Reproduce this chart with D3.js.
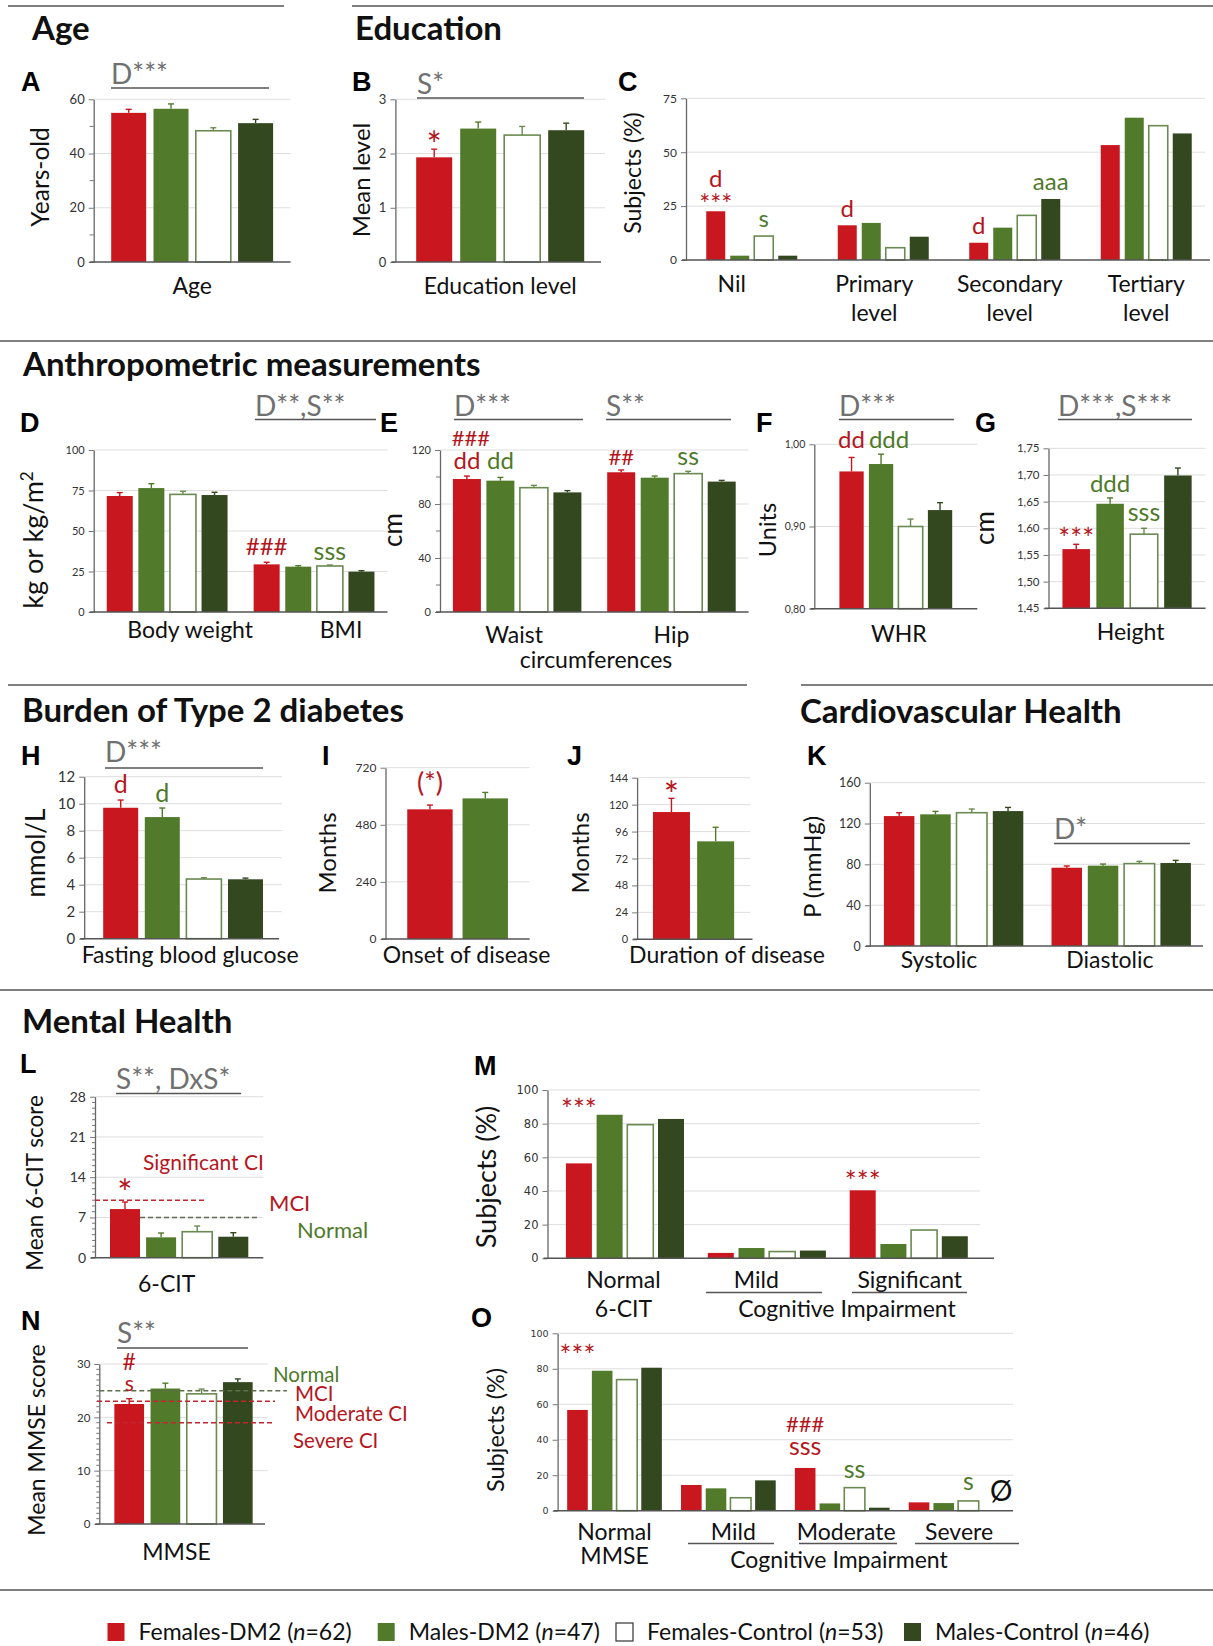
<!DOCTYPE html>
<html>
<head>
<meta charset="utf-8">
<script src="https://cdn.jsdelivr.net/npm/d3@7"></script>
<style>
  body { margin: 0; background: #fff; }
  svg text { font-family: Lato, "Open Sans", sans-serif; }
  .title { font-weight: 700; font-size: 33px; fill: #111; }
  .letter { font-family: "Liberation Sans", Arial, sans-serif !important; font-weight: 700; font-size: 27px; fill: #000; }
  .sig { font-size: 28px; fill: #707070; }
  .sigline { stroke: #555; stroke-width: 1.6px; }
  .rule { stroke: #555; stroke-width: 1.6px; }
  .ylab { fill: #111; }
  .xlab { font-size: 23px; fill: #111; }
</style>
</head>
<body>
<script>

    // ---- groups ----
    var groupNames = ["Females-DM2", "Males-DM2", "Females-Control", "Males-Control"];
    var groupN = [62, 47, 53, 46];

    // ---- A: age ----
    var ageCats = ["Age"];
    var ageMean = [[55.0, 56.5, 48.4, 51.2]];
    var ageSem = [[1.3, 1.8, 1.1, 1.4]];
    var ageTicks = [0, 20, 40, 60];

    // ---- B: education level ----
    var eduLevelCats = ["Education level"];
    var eduLevelMean = [[1.93, 2.46, 2.34, 2.43]];
    var eduLevelSem = [[0.15, 0.12, 0.16, 0.13]];
    var eduLevelTicks = [0, 1, 2, 3];

    // ---- C: education categories (% subjects) ----
    var eduCats = ["Nil", "Primary level", "Secondary level", "Tertiary level"];
    var eduPct = [[22.6, 2.0, 11.1, 2.0], [16.1, 17.2, 5.7, 10.8], [8.0, 15.0, 20.7, 28.3], [53.3, 66.0, 62.3, 58.7]];
    var eduTicks = [0, 25, 50, 75];

    // ---- D: body weight / BMI ----
    var weightCats = ["Body weight", "BMI"];
    var weightMean = [[71.6, 76.5, 72.6, 72.2], [29.4, 28.0, 28.4, 24.9]];
    var weightSem = [[2.1, 2.7, 1.9, 1.7], [1.3, 0.6, 0.6, 0.6]];
    var weightTicks = [0, 25, 50, 75, 100];

    // ---- E: circumferences ----
    var circCats = ["Waist", "Hip"];
    var circMean = [[98.5, 97.3, 92.1, 88.6], [103.5, 99.5, 102.5, 96.6]];
    var circSem = [[2.2, 2.4, 1.7, 1.3], [1.7, 1.2, 1.7, 0.9]];
    var circTicks = [0, 40, 80, 120];

    // ---- F: WHR ----
    var whrCats = ["WHR"];
    var whrMean = [[0.967, 0.976, 0.900, 0.920]];
    var whrSem = [[0.017, 0.012, 0.009, 0.009]];
    var whrTicks = [0.80, 0.90, 1.00];

    // ---- G: height ----
    var heightCats = ["Height"];
    var heightMean = [[1.561, 1.646, 1.589, 1.699]];
    var heightSem = [[0.009, 0.011, 0.011, 0.014]];
    var heightTicks = [1.45, 1.50, 1.55, 1.60, 1.65, 1.70, 1.75];

    // ---- H, I, J: diabetes ----
    var fbgCats = ["Fasting blood glucose"];
    var fbgMean = [[9.70, 9.01, 4.42, 4.40]];
    var fbgSem = [[0.57, 0.67, 0.10, 0.09]];
    var fbgTicks = [0, 2, 4, 6, 8, 10, 12];

    var onsetCats = ["Onset of disease"];
    var onsetMean = [[545, 591]];
    var onsetSem = [[18, 25]];
    var onsetTicks = [0, 240, 480, 720];

    var durCats = ["Duration of disease"];
    var durMean = [[113.4, 87.3]];
    var durSem = [[12.2, 12.5]];
    var durTicks = [0, 24, 48, 72, 96, 120, 144];

    // ---- K: blood pressure ----
    var bpCats = ["Systolic", "Diastolic"];
    var bpMean = [[127.3, 129.0, 130.6, 132.2], [76.7, 78.7, 80.7, 81.3]];
    var bpSem = [[3.3, 2.9, 3.6, 3.6], [1.7, 1.6, 2.2, 2.6]];
    var bpTicks = [0, 40, 80, 120, 160];

    // ---- L, M: 6-CIT ----
    var citCats = ["6-CIT"];
    var citMean = [[8.46, 3.54, 4.52, 3.65]];
    var citSem = [[1.22, 0.75, 0.99, 0.70]];
    var citTicks = [0, 7, 14, 21, 28];
    var citCutoffs = [10, 7];

    var citPctCats = ["Normal", "Mild", "Significant"];
    var citPct = [[56.4, 85.3, 79.4, 82.8], [3.2, 6.1, 4.0, 4.6], [40.4, 8.5, 16.8, 13.1]];
    var pctTicks = [0, 20, 40, 60, 80, 100];

    // ---- N, O: MMSE ----
    var mmseCats = ["MMSE"];
    var mmseMean = [[22.5, 25.4, 24.4, 26.6]];
    var mmseSem = [[1.0, 1.0, 0.9, 0.6]];
    var mmseTicks = [0, 10, 20, 30];
    var mmseCutoffs = [25, 23, 19];

    var mmsePctCats = ["Normal", "Mild", "Moderate", "Severe"];
    var mmsePct = [[56.8, 78.9, 73.9, 80.6], [14.5, 12.6, 7.3, 17.1], [24.1, 4.1, 13.0, 1.7], [4.7, 4.3, 5.5, null]];

    // ---- styles ----
    var RED = "#c8171e", GREEN = "#517a2b", DARK = "#33481f", OUT = "#6b8a51";
    var TRED = "#b5161d", TGREEN = "#4e7a2a", OLIVE = "#5e6e4a";
    var fills = [RED, GREEN, "#ffffff", DARK];
    var strokes = ["none", "none", OUT, "none"];
    var errCols = [RED, GREEN, OUT, DARK];

    var commaLocale = d3.formatLocale({decimal: ",", thousands: ".", grouping: [3], currency: ["", ""]});
    var fmtComma = commaLocale.format(".2f");

    var svg = d3.select("body").append("svg")
        .attr("width", 1213)
        .attr("height", 1646);

    function txt(x, y, t, cls, opts) {
        opts = opts || {};
        var el = svg.append("text").attr("x", x).attr("y", y).text(t);
        if (cls) el.attr("class", cls);
        if (opts.size) el.style("font-size", opts.size + "px");
        if (opts.fill) el.style("fill", opts.fill);
        if (opts.anchor) el.attr("text-anchor", opts.anchor);
        return el;
    }

    function rule(x1, x2, y) {
        svg.append("line").attr("class", "rule")
            .attr("x1", x1).attr("x2", x2).attr("y1", y).attr("y2", y);
    }

    function sigBar(t, x1, x2, yText, yLine) {
        txt(x1, yText, t, "sig");
        svg.append("line").attr("class", "sigline")
            .attr("x1", x1).attr("x2", x2).attr("y1", yLine).attr("y2", yLine);
    }

    function ytitle(t, x, y, size) {
        return svg.append("text").attr("class", "ylab")
            .attr("transform", "translate(" + x + "," + y + ") rotate(-90)")
            .attr("text-anchor", "middle").attr("dy", "0.35em")
            .style("font-size", (size || 24) + "px")
            .text(t);
    }

    function barPanel(p) {
        var g = svg.append("g");
        var axisX = p.axisX || p.range[0];
        var y = d3.scaleLinear()
            .domain([p.ticks[0], p.ticks[p.ticks.length - 1]])
            .range([p.yBot, p.yTop]);
        var x = d3.scaleBand().domain(p.cats).range(p.range);
        var gridEnd = p.gridEnd || p.range[1];

        g.selectAll("line.grid")
            .data(p.ticks.slice(1))
            .enter().append("line")
            .attr("class", "grid")
            .attr("x1", axisX).attr("x2", gridEnd)
            .attr("y1", y).attr("y2", y)
            .attr("stroke", "#dedede").attr("stroke-width", 1);

        if (p.minor) {
            g.selectAll("line.minor")
                .data(p.minor)
                .enter().append("line")
                .attr("x1", axisX - (p.minorSize || 4)).attr("x2", axisX)
                .attr("y1", y).attr("y2", y)
                .attr("stroke", "#777").attr("stroke-width", 1);
        }

        var bars = [];
        p.cats.forEach(function (c, ci) {
            var vals = p.values[ci];
            var n = vals.length;
            vals.forEach(function (v, bi) {
                if (v == null) return;
                bars.push({
                    ci: ci, bi: bi, v: v,
                    e: p.errors ? p.errors[ci][bi] : 0,
                    cx: x(c) + x.bandwidth() / 2 + (bi - (n - 1) / 2) * p.step
                });
            });
        });

        // error bars (up only)
        var eb = bars.filter(function (d) { return d.e > 0; });
        g.selectAll("line.err")
            .data(eb)
            .enter().append("line")
            .attr("x1", function (d) { return d.cx; })
            .attr("x2", function (d) { return d.cx; })
            .attr("y1", function (d) { return y(d.v); })
            .attr("y2", function (d) { return y(d.v + d.e); })
            .attr("stroke", function (d) { return errCols[d.bi]; })
            .attr("stroke-width", 1.4);
        g.selectAll("line.cap")
            .data(eb)
            .enter().append("line")
            .attr("x1", function (d) { return d.cx - 3; })
            .attr("x2", function (d) { return d.cx + 3; })
            .attr("y1", function (d) { return y(d.v + d.e); })
            .attr("y2", function (d) { return y(d.v + d.e); })
            .attr("stroke", function (d) { return errCols[d.bi]; })
            .attr("stroke-width", 1.4);

        g.selectAll("rect.bar")
            .data(bars)
            .enter().append("rect")
            .attr("class", "bar")
            .attr("x", function (d) { return d.cx - p.bw / 2; })
            .attr("width", p.bw)
            .attr("y", function (d) { return y(d.v); })
            .attr("height", function (d) { return p.yBot - y(d.v); })
            .attr("fill", function (d) { return fills[d.bi]; })
            .attr("stroke", function (d) { return strokes[d.bi]; })
            .attr("stroke-width", 1.6);

        var ax = d3.axisLeft(y)
            .tickValues(p.ticks)
            .tickSize(5)
            .tickSizeOuter(0)
            .tickPadding(4)
            .tickFormat(p.fmt || d3.format("d"));
        var ag = g.append("g")
            .attr("transform", "translate(" + axisX + ",0)")
            .call(ax);
        ag.select(".domain").attr("stroke", "#666").attr("stroke-width", 1.3);
        ag.selectAll(".tick line").attr("stroke", "#777");
        ag.selectAll(".tick text")
            .style("font-size", (p.tickFont || 12) + "px")
            .style("font-family", p.tickFamily || "Lato, sans-serif")
            .attr("fill", "#333");

        g.append("line")
            .attr("x1", axisX - 4).attr("x2", p.xEnd || p.range[1])
            .attr("y1", p.yBot).attr("y2", p.yBot)
            .attr("stroke", "#555").attr("stroke-width", 1.6);

        // category labels
        if (p.labels) {
            p.cats.forEach(function (c, ci) {
                var cx = x(c) + x.bandwidth() / 2 + (p.labelDx ? p.labelDx[ci] : 0);
                p.labels[ci].forEach(function (line, li) {
                    txt(cx, p.labelY + li * (p.labelLH || 29), line, "xlab", {anchor: "middle"});
                });
            });
        }

        // annotations above bars
        (p.notes || []).forEach(function (nt) {
            var c = p.cats[nt.c];
            var n = p.values[nt.c].length;
            var cx = x(c) + x.bandwidth() / 2 + (nt.b - (n - 1) / 2) * p.step + (nt.dx || 0);
            txt(cx, nt.y, nt.t, null, {anchor: "middle", size: nt.size || 24, fill: nt.col});
        });

        // reference cut-off lines
        (p.cutoffs || []).forEach(function (co) {
            g.append("line")
                .attr("x1", co.x1).attr("x2", co.x2)
                .attr("y1", y(co.v)).attr("y2", y(co.v))
                .attr("stroke", co.col).attr("stroke-width", 1.5)
                .attr("stroke-dasharray", "5,3");
        });

        return {x: x, y: y};
    }

    // ---- section rules and titles ----
    rule(8, 284, 6);
    rule(352, 1213, 6);
    rule(0, 1213, 341);
    rule(8, 747, 685);
    rule(801, 1213, 685);
    rule(0, 1213, 990);
    rule(0, 1213, 1590);

    txt(32, 40, "Age", "title");
    txt(355, 40, "Education", "title");
    txt(23, 376, "Anthropometric measurements", "title");
    txt(22, 722, "Burden of Type 2 diabetes", "title");
    txt(800, 723, "Cardiovascular Health", "title");
    txt(22, 1033, "Mental Health", "title");

    // ---- panel letters ----
    [["A", 21, 91], ["B", 352, 91], ["C", 618, 91], ["D", 20, 432], ["E", 380, 432],
     ["F", 756, 432], ["G", 975, 432], ["H", 21, 765], ["I", 322, 765], ["J", 567, 765],
     ["K", 807, 765], ["L", 20, 1073], ["M", 474, 1075], ["N", 21, 1330], ["O", 471, 1327]]
        .forEach(function (l) { txt(l[1], l[2], l[0], "letter"); });

    // ---- A ----
    barPanel({cats: ageCats, values: ageMean, errors: ageSem, ticks: ageTicks, minor: [10, 30, 50],
        range: [93.7, 290.6], yTop: 99.3, yBot: 262, bw: 35, step: 42.3, tickFont: 13,
        labels: [["Age"]], labelY: 294});
    ytitle("Years-old", 40, 177, 24.5);
    sigBar("D***", 111, 269, 84, 88);

    // ---- B ----
    barPanel({cats: eduLevelCats, values: eduLevelMean, errors: eduLevelSem, ticks: eduLevelTicks,
        range: [395.4, 605], xEnd: 601, yTop: 99.3, yBot: 262, bw: 36, step: 44, tickFont: 13,
        labels: [["Education level"]], labelY: 294,
        notes: [{c: 0, b: 0, t: "*", col: TRED, y: 158, size: 36}]});
    ytitle("Mean level", 362, 180, 24);
    sigBar("S*", 417, 584, 94, 98);

    // ---- C ----
    barPanel({cats: eduCats, values: eduPct, ticks: eduTicks,
        range: [686, 1212], xEnd: 1210, gridEnd: 1205, yTop: 98.3, yBot: 260, bw: 19, step: 24, tickFont: 12,
        labels: [["Nil"], ["Primary", "level"], ["Secondary", "level"], ["Tertiary", "level"]],
        labelY: 292, labelLH: 29, labelDx: [-20, -9, -5, 0],
        notes: [
            {c: 0, b: 0, t: "d", col: TRED, y: 187},
            {c: 0, b: 0, t: "***", col: TRED, y: 214, size: 26},
            {c: 0, b: 2, t: "s", col: TGREEN, y: 227},
            {c: 1, b: 0, t: "d", col: TRED, y: 217},
            {c: 2, b: 0, t: "d", col: TRED, y: 234},
            {c: 2, b: 3, t: "aaa", col: TGREEN, y: 190}
        ]});
    ytitle("Subjects (%)", 633, 173, 23);

    // ---- D ----
    barPanel({cats: weightCats, values: weightMean, errors: weightSem, ticks: weightTicks,
        range: [93.7, 387.5], yTop: 450, yBot: 612, bw: 26, step: 31.6, tickFont: 11,
        labels: [["Body weight"], ["BMI"]], labelY: 638, labelDx: [23, 27],
        notes: [
            {c: 1, b: 0, t: "###", col: TRED, y: 555, size: 24},
            {c: 1, b: 2, t: "sss", col: TGREEN, y: 560, size: 25}
        ]});
    var kgLab = ytitle("", 34, 540, 27);
    kgLab.append("tspan").text("kg  or kg/m");
    kgLab.append("tspan").attr("baseline-shift", "super").style("font-size", "17px").text("2");
    sigBar("D**,S**", 255, 376, 416, 419.5);

    // ---- E ----
    barPanel({cats: circCats, values: circMean, errors: circSem, ticks: circTicks, minor: [20, 60, 100],
        range: [440, 748.6], yTop: 450, yBot: 612, bw: 28, step: 33.5, tickFont: 11,
        labels: [["Waist"], ["Hip"]], labelY: 643, labelDx: [-3, 0],
        notes: [
            {c: 0, b: 0, t: "###", col: TRED, y: 446, dx: 4, size: 22},
            {c: 0, b: 0, t: "dd", col: TRED, y: 469},
            {c: 0, b: 1, t: "dd", col: TGREEN, y: 469},
            {c: 1, b: 0, t: "##", col: TRED, y: 465, size: 22},
            {c: 1, b: 2, t: "ss", col: TGREEN, y: 465, size: 25}
        ]});
    txt(596, 668, "circumferences", "xlab", {anchor: "middle"});
    ytitle("cm", 393, 530, 26);
    sigBar("D***", 454, 583, 416, 419.5);
    sigBar("S**", 606, 731, 416, 419.5);

    // ---- F ----
    barPanel({cats: whrCats, values: whrMean, errors: whrSem, ticks: whrTicks, fmt: fmtComma,
        range: [814.3, 977.3], yTop: 444.3, yBot: 608.7, bw: 24.3, step: 29.5, tickFont: 10.5,
        labels: [["WHR"]], labelY: 642, labelDx: [3],
        notes: [
            {c: 0, b: 0, t: "dd", col: TRED, y: 448},
            {c: 0, b: 1, t: "ddd", col: TGREEN, y: 448, dx: 8}
        ]});
    ytitle("Units", 768, 530, 23.5);
    sigBar("D***", 839, 954, 416, 419.5);

    // ---- G ----
    barPanel({cats: heightCats, values: heightMean, errors: heightSem, ticks: heightTicks, fmt: fmtComma,
        range: [1048.5, 1205.6], yTop: 448.3, yBot: 608.3, bw: 27.5, step: 33.9, tickFont: 11.5,
        labels: [["Height"]], labelY: 640, labelDx: [3.5],
        notes: [
            {c: 0, b: 0, t: "***", col: TRED, y: 549, size: 28},
            {c: 0, b: 1, t: "ddd", col: TGREEN, y: 492},
            {c: 0, b: 2, t: "sss", col: TGREEN, y: 521, size: 25}
        ]});
    ytitle("cm", 985, 528, 26);
    sigBar("D***,S***", 1058, 1192, 416, 419.5);

    // ---- H ----
    barPanel({cats: fbgCats, values: fbgMean, errors: fbgSem, ticks: fbgTicks,
        range: [84.2, 282], xEnd: 279, yTop: 776.7, yBot: 938.7, bw: 35, step: 41.6, tickFont: 15,
        labels: [["Fasting blood glucose"]], labelY: 963, labelDx: [7],
        notes: [
            {c: 0, b: 0, t: "d", col: TRED, y: 793, size: 25},
            {c: 0, b: 1, t: "d", col: TGREEN, y: 802, size: 25}
        ]});
    ytitle("mmol/L", 36, 853, 26);
    sigBar("D***", 105, 263, 762, 768);

    // ---- I ----
    barPanel({cats: onsetCats, values: onsetMean, errors: onsetSem, ticks: onsetTicks,
        range: [385.5, 529.7], yTop: 767.7, yBot: 939, bw: 45.4, step: 55.3, tickFont: 12,
        labels: [["Onset of disease"]], labelY: 963, labelDx: [9],
        notes: [{c: 0, b: 0, t: "(*)", col: TRED, y: 792, size: 27}]});
    ytitle("Months", 328, 853, 24);

    // ---- J ----
    barPanel({cats: durCats, values: durMean, errors: durSem, ticks: durTicks,
        range: [637.1, 750], xEnd: 752.5, yTop: 777.7, yBot: 939.3, bw: 37, step: 44.2, tickFont: 11,
        labels: [["Duration of disease"]], labelY: 963, labelDx: [33.5],
        notes: [{c: 0, b: 0, t: "*", col: TRED, y: 808, size: 36}]});
    ytitle("Months", 581, 853, 24);

    // ---- K ----
    barPanel({cats: bpCats, values: bpMean, errors: bpSem, ticks: bpTicks,
        range: [869.8, 1205], xEnd: 1203, yTop: 782.7, yBot: 946, bw: 30.5, step: 36.3, tickFont: 12.5,
        labels: [["Systolic"], ["Diastolic"]], labelY: 968, labelDx: [-14.6, -11.3]});
    ytitle("P (mmHg)", 813, 867, 24);
    sigBar("D*", 1054, 1190, 839, 843.5);

    // ---- L ----
    var citMinor = d3.range(1, 28).filter(function (v) { return v % 7 !== 0; });
    barPanel({cats: citCats, values: citMean, errors: citSem, ticks: citTicks, minor: citMinor, minorSize: 3,
        range: [95, 263.3], yTop: 1096.7, yBot: 1257.7, bw: 30, step: 36.1, tickFont: 14,
        labels: [["6-CIT"]], labelY: 1292, labelDx: [-12.5],
        notes: [{c: 0, b: 0, t: "*", col: TRED, y: 1206, size: 36}],
        cutoffs: [
            {v: citCutoffs[0], x1: 95, x2: 205, col: "#c0282e"},
            {v: citCutoffs[1], x1: 140, x2: 257, col: OLIVE}
        ]});
    ytitle("Mean 6-CIT score", 35, 1183, 22.5);
    sigBar("S**, DxS*", 116, 241, 1089, 1093.5);
    txt(143, 1170, "Significant CI", null, {size: 21, fill: TRED});
    txt(269, 1211, "MCI", null, {size: 22, fill: TRED});
    txt(297, 1238, "Normal", null, {size: 22, fill: TGREEN});

    // ---- M ----
    barPanel({cats: citPctCats, values: citPct, ticks: pctTicks, axisX: 547.5,
        range: [554, 979.7], xEnd: 994, gridEnd: 980, yTop: 1090, yBot: 1258.3, bw: 26, step: 30.7,
        tickFont: 11.5, tickFamily: "DejaVu Sans, sans-serif",
        labels: [["Normal", "6-CIT"], ["Mild"], ["Significant"]], labelY: 1288, labelLH: 28.5,
        labelDx: [-1.5, -10.5, 1],
        notes: [
            {c: 0, b: 0, t: "***", col: TRED, y: 1120, size: 28},
            {c: 2, b: 0, t: "***", col: TRED, y: 1192, size: 28}
        ]});
    rule(706, 822, 1292.5);
    rule(852, 967, 1292.5);
    txt(847, 1317, "Cognitive Impairment", "xlab", {anchor: "middle"});
    ytitle("Subjects (%)", 487, 1177, 27);

    // ---- N ----
    var mmseMinor = d3.range(1, 30).filter(function (v) { return v % 10 !== 0; });
    barPanel({cats: mmseCats, values: mmseMean, errors: mmseSem, ticks: mmseTicks, minor: mmseMinor, minorSize: 3,
        range: [99.3, 267.7], xEnd: 265, yTop: 1364, yBot: 1524, bw: 29.7, step: 36.2, tickFont: 11.5,
        labels: [["MMSE"]], labelY: 1560, labelDx: [-7],
        notes: [
            {c: 0, b: 0, t: "#", col: TRED, y: 1370, size: 23},
            {c: 0, b: 0, t: "s", col: TRED, y: 1391, size: 21}
        ],
        cutoffs: [
            {v: mmseCutoffs[0], x1: 99.3, x2: 287, col: OLIVE},
            {v: mmseCutoffs[1], x1: 97, x2: 275, col: "#c0282e"},
            {v: mmseCutoffs[2], x1: 107, x2: 275, col: "#c0282e"}
        ]});
    ytitle("Mean MMSE score", 37, 1440, 23);
    sigBar("S**", 117, 248, 1343, 1348);
    txt(273, 1382, "Normal", null, {size: 20.5, fill: TGREEN});
    txt(295, 1401, "MCI", null, {size: 20.5, fill: TRED});
    txt(295, 1421, "Moderate CI", null, {size: 20.5, fill: TRED});
    txt(293, 1448, "Severe CI", null, {size: 20.5, fill: TRED});

    // ---- O ----
    barPanel({cats: mmsePctCats, values: mmsePct, ticks: pctTicks,
        range: [557.6, 1013], yTop: 1333.3, yBot: 1510.7, bw: 20.6, step: 24.7,
        tickFont: 9.5, tickFamily: "DejaVu Sans, sans-serif",
        labels: [["Normal", "MMSE"], ["Mild"], ["Moderate"], ["Severe"]], labelY: 1540, labelLH: 24,
        labelDx: [0, 5, 4, 3],
        notes: [
            {c: 0, b: 0, t: "***", col: TRED, y: 1366, size: 28},
            {c: 2, b: 0, t: "###", col: TRED, y: 1432, size: 22},
            {c: 2, b: 0, t: "sss", col: TRED, y: 1455, size: 25},
            {c: 2, b: 2, t: "ss", col: TGREEN, y: 1478, size: 25},
            {c: 3, b: 2, t: "s", col: TGREEN, y: 1490, size: 25},
            {c: 3, b: 3, t: "\u00d8", col: "#111", y: 1501, size: 28, dx: 8}
        ]});
    rule(688, 774, 1543.5);
    rule(799, 897, 1543.5);
    rule(915, 1019, 1543.5);
    txt(839, 1568, "Cognitive Impairment", "xlab", {anchor: "middle"});
    ytitle("Subjects (%)", 496, 1430, 23.5);

    // ---- legend ----
    var legX = [107.5, 377.7, 616, 904];
    groupNames.forEach(function (name, i) {
        svg.append("rect")
            .attr("x", legX[i]).attr("y", 1623)
            .attr("width", 17).attr("height", 18)
            .attr("fill", fills[i])
            .attr("stroke", i === 2 ? "#333" : "none").attr("stroke-width", 1.2);
        var t = svg.append("text").attr("x", legX[i] + 31).attr("y", 1640)
            .style("font-size", "23px").style("fill", "#111");
        t.append("tspan").text(name + " (");
        t.append("tspan").style("font-style", "italic").text("n");
        t.append("tspan").text("=" + groupN[i] + ")");
    });

</script>
</body>
</html>
